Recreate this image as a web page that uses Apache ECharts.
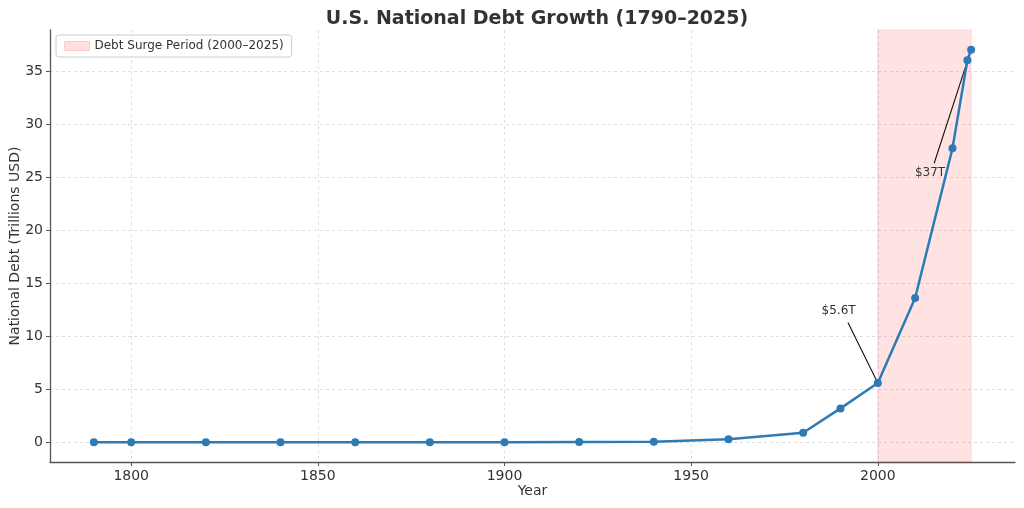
<!DOCTYPE html>
<html>
<head>
<meta charset="utf-8">
<script src="https://cdn.jsdelivr.net/npm/echarts@6/dist/echarts.min.js"></script>
<style>
  html, body { margin: 0; padding: 0; background: #fff; }
  #main { width: 1024px; height: 508px; }
</style>
</head>
<body>
<div id="main"></div>
<script>
// data
var years = [1790, 1800, 1820, 1840, 1860, 1880, 1900, 1920, 1940, 1960, 1980, 1990, 2000, 2010, 2020, 2024, 2025]
var debt = [0.00008, 0.00008, 0.00009, 0.000004, 0.00007, 0.002, 0.002, 0.024, 0.05, 0.29, 0.91, 3.2, 5.6, 13.6, 27.7, 36.0, 37.0]
var surge = [2000, 2025]
var surgeName = 'Debt Surge Period (2000–2025)'
// annotations: [label, text at [year, value], arrow from, arrow to]
var notes = [
  ['$5.6T', [1989.5, 12.4], [1992.0, 11.3], [2000, 5.6]],
  ['$37T', [2014.0, 25.4], [2015.1, 26.3], [2025, 37.0]]
]

var font = 'DejaVu Sans'
var myChart = echarts.init(document.getElementById('main'))

myChart.setOption({
  animation: false,
  textStyle: { fontFamily: font },
  title: {
    text: 'U.S. National Debt Growth (1790–2025)',
    left: 532, top: 5, textAlign: 'center',
    textStyle: { fontFamily: font, fontSize: 19, fontWeight: 'bold', color: '#333' }
  },
  legend: {
    left: 56, top: 35,
    padding: [5, 8],
    borderColor: '#ccc', borderWidth: 1, borderRadius: 3,
    backgroundColor: 'rgba(255,255,255,0.8)',
    itemWidth: 25, itemHeight: 9, itemGap: 8,
    textStyle: { fontFamily: font, fontSize: 12, color: '#333' },
    data: [{ name: surgeName, icon: 'rect', itemStyle: { color: '#ffe0e0', borderColor: '#ffc9c9', borderWidth: 1 } }]
  },
  grid: { left: 50, right: 9, top: 30, bottom: 46, containLabel: false, outerBoundsMode: 'none' },
  xAxis: {
    type: 'value',
    min: years[0] - (years[years.length - 1] - years[0]) * 0.05,
    max: years[years.length - 1] + (years[years.length - 1] - years[0]) * 0.05,
    splitNumber: 5,
    name: 'Year', nameLocation: 'middle', nameGap: 22, nameMoveOverlap: false,
    nameTextStyle: { fontFamily: font, fontSize: 14, color: '#333' },
    axisLine: { show: true, onZero: false, lineStyle: { color: '#555', width: 1.3 } },
    axisTick: { show: true, length: 4, lineStyle: { color: '#555' } },
    axisLabel: { showMinLabel: false, showMaxLabel: false, fontSize: 14, color: '#333', margin: 7,
      formatter: function (v) { return String(v) } },
    splitLine: { show: true, showMinLine: false, showMaxLine: false, lineStyle: { type: [3, 3], color: '#d6d6d6', width: 0.8 } }
  },
  yAxis: {
    type: 'value',
    min: -1.85, max: 38.85,
    splitNumber: 8,
    name: 'National Debt (Trillions USD)', nameLocation: 'middle', nameGap: 28, nameMoveOverlap: false,
    nameTextStyle: { fontFamily: font, fontSize: 14, color: '#333' },
    axisLine: { show: true, onZero: false, lineStyle: { color: '#555', width: 1.3 } },
    axisTick: { show: true, length: 4, lineStyle: { color: '#555' } },
    axisLabel: { showMinLabel: false, showMaxLabel: false, fontSize: 14, color: '#333', margin: 7,
      formatter: function (v) { return String(v) } },
    splitLine: { show: true, showMinLine: false, showMaxLine: false, lineStyle: { type: [3, 3], color: '#d6d6d6', width: 0.8 } }
  },
  series: [
    {
      name: surgeName,
      type: 'line',
      data: [],
      itemStyle: { color: '#ffe0e0' },
      markArea: {
        silent: true,
        itemStyle: { color: 'rgba(255,0,0,0.11)', borderColor: 'rgba(255,0,0,0.12)', borderWidth: 1 },
        data: [[{ xAxis: surge[0] }, { xAxis: surge[1] }]]
      }
    },
    {
      name: 'Debt',
      type: 'line',
      data: years.map(function (y, i) { return [y, debt[i]] }),
      symbol: 'circle', symbolSize: 8,
      lineStyle: { color: '#2c7bb6', width: 2.5 },
      itemStyle: { color: '#2c7bb6' },
      z: 5,
      markLine: {
        silent: true,
        symbol: ['none', 'arrow'], symbolSize: [0, 9],
        label: { show: false },
        lineStyle: { color: '#111', width: 1.1, type: 'solid' },
        data: notes.map(function (n) { return [{ coord: n[2] }, { coord: n[3] }] })
      },
      markPoint: {
        silent: true,
        symbol: 'rect', symbolSize: 1,
        itemStyle: { color: 'transparent' },
        label: { show: true, position: 'inside', fontFamily: font, fontSize: 12, color: '#333' },
        data: notes.map(function (n) { return { coord: n[1], value: n[0], label: { formatter: n[0] } } })
      }
    }
  ]
})
</script>
</body>
</html>
